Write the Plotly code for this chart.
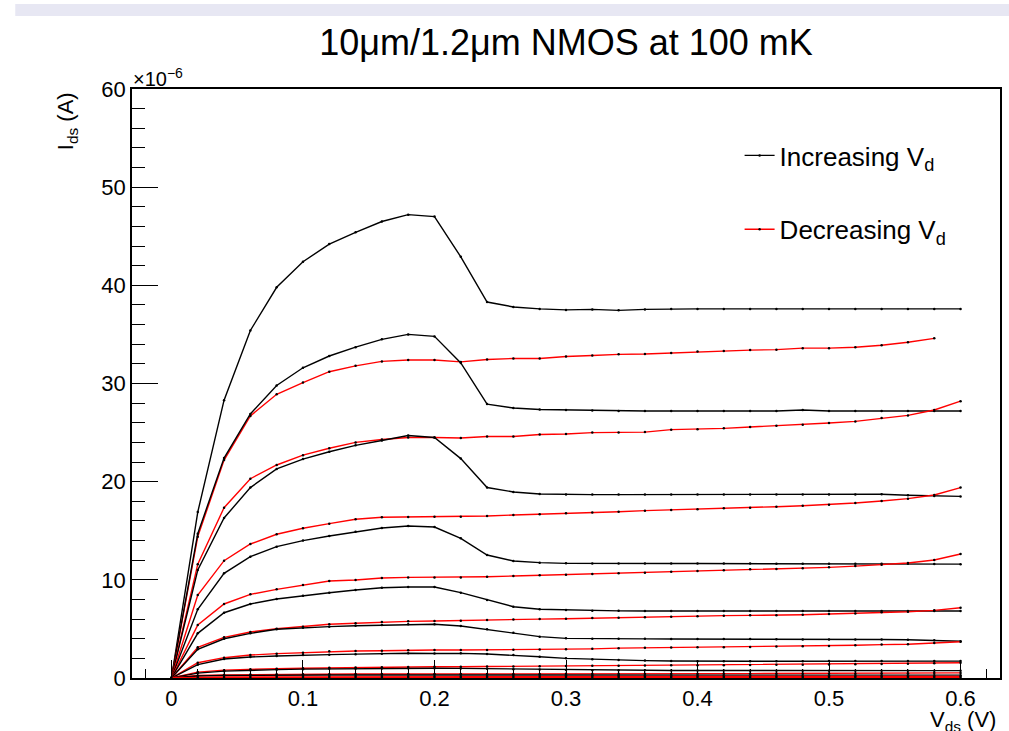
import plotly.graph_objects as go

vds = [0.00, 0.02, 0.04, 0.06, 0.08, 0.10, 0.12, 0.14, 0.16, 0.18, 0.20,
       0.22, 0.24, 0.26, 0.28, 0.30, 0.32, 0.34, 0.36, 0.38, 0.40,
       0.42, 0.44, 0.46, 0.48, 0.50, 0.52, 0.54, 0.56, 0.58, 0.60]

# Increasing Vd (black), values in units of 1e-6 A
inc1 = [0, 16.9, 28.3, 35.4, 39.8, 42.4, 44.2, 45.4, 46.5, 47.2, 47.0,
        42.9, 38.3, 37.8, 37.6, 37.5, 37.55, 37.45, 37.55, 37.6, 37.6,
        37.6, 37.6, 37.6, 37.6, 37.6, 37.6, 37.6, 37.6, 37.6, 37.6]
inc2 = [0, 14.7, 22.4, 26.9, 29.8, 31.6, 32.8, 33.7, 34.5, 35.0, 34.8,
        32.1, 27.9, 27.5, 27.35, 27.3, 27.25, 27.2, 27.2, 27.2, 27.2,
        27.2, 27.2, 27.2, 27.3, 27.2, 27.2, 27.2, 27.2, 27.2, 27.2]
inc3 = [0, 11.0, 16.3, 19.4, 21.3, 22.3, 23.05, 23.7, 24.2, 24.7, 24.5,
        22.35, 19.4, 18.95, 18.75, 18.7, 18.68, 18.68, 18.68, 18.68, 18.68,
        18.68, 18.68, 18.7, 18.68, 18.68, 18.68, 18.72, 18.62, 18.55, 18.5]
inc4 = [0, 7.0, 10.66, 12.36, 13.38, 14.0, 14.46, 14.9, 15.28, 15.48, 15.38,
        14.23, 12.53, 11.92, 11.75, 11.68, 11.66, 11.66, 11.66, 11.66, 11.66,
        11.66, 11.66, 11.65, 11.65, 11.65, 11.65, 11.65, 11.64, 11.62, 11.6]
inc5 = [0, 4.55, 6.65, 7.54, 8.05, 8.38, 8.69, 8.96, 9.2, 9.27, 9.27,
        8.69, 7.95, 7.26, 7.0, 6.93, 6.86, 6.84, 6.83, 6.83, 6.83,
        6.83, 6.83, 6.83, 6.83, 6.83, 6.83, 6.83, 6.83, 6.83, 6.83]
inc6 = [0, 2.93, 4.0, 4.55, 4.96, 5.13, 5.23, 5.33, 5.4, 5.47, 5.47,
        5.3, 4.96, 4.62, 4.21, 4.04, 4.0, 3.99, 3.99, 3.98, 3.98,
        3.98, 3.98, 3.95, 3.93, 3.92, 3.92, 3.92, 3.9, 3.85, 3.75]
inc7 = [0, 1.36, 1.94, 2.14, 2.24, 2.34, 2.38, 2.43, 2.48, 2.52, 2.5,
        2.51, 2.44, 2.34, 2.17, 2.0, 1.9, 1.83, 1.77, 1.73, 1.7,
        1.7, 1.7, 1.71, 1.71, 1.72, 1.72, 1.72, 1.72, 1.72, 1.72]
inc8 = [0, 0.5, 0.7, 0.8, 0.85, 0.9, 0.93, 0.95, 0.97, 0.99, 1.0,
        0.98, 0.95, 0.9, 0.86, 0.82, 0.8, 0.79, 0.78, 0.77, 0.77,
        0.76, 0.75, 0.75, 0.75, 0.75, 0.75, 0.75, 0.75, 0.75, 0.75]
inc9 = [0, 0.2, 0.25, 0.28, 0.3, 0.3, 0.31, 0.31, 0.32, 0.32, 0.32,
        0.32, 0.31, 0.3, 0.3, 0.29, 0.29, 0.29, 0.29, 0.29, 0.29,
        0.29, 0.29, 0.29, 0.29, 0.29, 0.29, 0.29, 0.29, 0.29, 0.29]

# Decreasing Vd (red)
dec1 = [0, 14.4, 22.2, 26.7, 28.9, 30.1, 31.2, 31.8, 32.25, 32.4, 32.4,
        32.2, 32.45, 32.55, 32.55, 32.75, 32.85, 32.97, 33.0, 33.1, 33.25,
        33.3, 33.4, 33.45, 33.6, 33.6, 33.7, 33.9, 34.2, 34.6]
dec2 = [0, 11.6, 17.35, 20.3, 21.7, 22.7, 23.4, 24.0, 24.3, 24.5, 24.5,
        24.45, 24.6, 24.6, 24.8, 24.85, 25.0, 25.0, 25.05, 25.3, 25.35,
        25.43, 25.57, 25.7, 25.8, 25.97, 26.14, 26.48, 26.75, 27.3, 28.2]
dec3 = [0, 8.45, 11.95, 13.65, 14.64, 15.25, 15.72, 16.17, 16.37, 16.4, 16.43,
        16.43, 16.5, 16.6, 16.67, 16.77, 16.87, 16.94, 17.05, 17.12, 17.2,
        17.28, 17.35, 17.45, 17.55, 17.66, 17.83, 18.03, 18.27, 18.64, 19.4]
dec4 = [0, 5.4, 7.54, 8.52, 9.03, 9.47, 9.88, 9.98, 10.19, 10.25, 10.25,
        10.25, 10.32, 10.39, 10.46, 10.53, 10.6, 10.66, 10.73, 10.83, 10.9,
        10.97, 11.07, 11.1, 11.17, 11.27, 11.4, 11.54, 11.71, 12.02, 12.63]
dec5 = [0, 3.13, 4.14, 4.69, 5.02, 5.23, 5.47, 5.57, 5.7, 5.77, 5.81,
        5.84, 5.91, 5.97, 6.0, 6.04, 6.1, 6.14, 6.2, 6.24, 6.3,
        6.35, 6.38, 6.4, 6.45, 6.52, 6.58, 6.69, 6.75, 6.89, 7.16]
dec6 = [0, 1.56, 2.07, 2.34, 2.48, 2.58, 2.72, 2.75, 2.78, 2.83, 2.85,
        2.85, 2.86, 2.88, 2.9, 2.94, 2.97, 3.04, 3.07, 3.1, 3.12,
        3.14, 3.17, 3.2, 3.24, 3.27, 3.34, 3.4, 3.44, 3.57, 3.7]
dec7 = [0, 0.6, 0.8, 0.9, 0.95, 1.0, 1.04, 1.07, 1.1, 1.12, 1.15,
        1.15, 1.17, 1.18, 1.2, 1.22, 1.24, 1.26, 1.27, 1.29, 1.3,
        1.31, 1.32, 1.34, 1.36, 1.38, 1.4, 1.43, 1.46, 1.5, 1.55]
dec8 = [0, 0.25, 0.32, 0.35, 0.37, 0.38, 0.39, 0.4, 0.4, 0.41, 0.41,
        0.41, 0.42, 0.42, 0.42, 0.43, 0.43, 0.43, 0.44, 0.44, 0.44,
        0.45, 0.45, 0.45, 0.46, 0.46, 0.47, 0.48, 0.49, 0.5, 0.52]
dec9 = [0, 0.08, 0.1, 0.11, 0.12, 0.12, 0.12, 0.13, 0.13, 0.13, 0.13,
        0.13, 0.13, 0.13, 0.13, 0.13, 0.14, 0.14, 0.14, 0.14, 0.14,
        0.14, 0.14, 0.14, 0.14, 0.15, 0.15, 0.15, 0.15, 0.15, 0.16]
dec10 = [0, 0.02, 0.03, 0.03, 0.03, 0.03, 0.03, 0.03, 0.03, 0.03, 0.03,
         0.03, 0.03, 0.03, 0.03, 0.03, 0.03, 0.03, 0.03, 0.03, 0.03,
         0.03, 0.03, 0.03, 0.03, 0.03, 0.03, 0.03, 0.03, 0.03, 0.03]

increasing = [inc1, inc2, inc3, inc4, inc5, inc6, inc7, inc8, inc9]
decreasing = [dec1, dec2, dec3, dec4, dec5, dec6, dec7, dec8, dec9, dec10]

title_text = "10\u03bcm/1.2\u03bcm NMOS at 100 mK"
legend_inc = "Increasing V<sub>d</sub>"
legend_dec = "Decreasing V<sub>d</sub>"
x_ticks = [0, 0.1, 0.2, 0.3, 0.4, 0.5, 0.6]
x_labels = ["0", "0.1", "0.2", "0.3", "0.4", "0.5", "0.6"]
y_ticks = [0, 10, 20, 30, 40, 50, 60]

FONT = "Liberation Sans, Arial, Helvetica, sans-serif"
W, H = 1009, 731
L, R, T, B = 132, 1002, 89, 678   # plot-area edges in pixels
PW, PH = R - L, B - T


def px(x):
    return (x - L) / PW


def py(y):
    return (B - y) / PH


fig = go.Figure()

n = max(len(increasing), len(decreasing))
for i in range(n):
    if i < len(increasing):
        ys = increasing[i]
        fig.add_trace(go.Scatter(
            x=vds[:len(ys)], y=ys, mode="lines+markers",
            line=dict(color="black", width=1.4),
            marker=dict(color="black", size=2.5),
            name=legend_inc, legendgroup="inc", legendrank=1,
            showlegend=(i == 0)))
    if i < len(decreasing):
        ys = decreasing[i]
        fig.add_trace(go.Scatter(
            x=vds[:len(ys)], y=ys, mode="lines+markers",
            line=dict(color="#ff0000", width=1.4),
            marker=dict(color="black", size=2.5),
            name=legend_dec, legendgroup="dec", legendrank=2,
            showlegend=(i == 0)))

fig.update_layout(
    width=W, height=H,
    margin=dict(l=L, r=W - R, t=T, b=H - B),
    paper_bgcolor="white", plot_bgcolor="white",
    font=dict(family=FONT, color="black", size=22),
    title=dict(text=title_text, x=0.5, xref="paper", y=1 - 42 / H,
               yref="container", xanchor="center", yanchor="middle",
               font=dict(size=36, family=FONT)),
    showlegend=True,
    legend=dict(x=px(741), y=py(132), xanchor="left", yanchor="top",
                bgcolor="rgba(0,0,0,0)", borderwidth=0,
                font=dict(size=26, family=FONT),
                traceorder="grouped", tracegroupgap=37),
    xaxis=dict(range=[-0.03, 0.63], showgrid=False, zeroline=False,
               showline=True, linecolor="black", linewidth=1.5, mirror=True,
               ticks="inside", ticklen=18, tickwidth=1, tickcolor="black",
               tickvals=x_ticks, ticktext=x_labels,
               tickfont=dict(size=22, family=FONT),
               minor=dict(dtick=0.02, tick0=0, ticks="inside", ticklen=9,
                          tickwidth=1, tickcolor="black", showgrid=False)),
    yaxis=dict(range=[0, 60], showgrid=False, zeroline=False,
               showline=True, linecolor="black", linewidth=1.5, mirror=True,
               ticks="inside", ticklen=26, tickwidth=1, tickcolor="black",
               tickvals=y_ticks, tickfont=dict(size=22, family=FONT),
               minor=dict(dtick=2, tick0=0, ticks="inside", ticklen=13,
                          tickwidth=1, tickcolor="black", showgrid=False)),
    shapes=[dict(type="rect", xref="paper", yref="paper",
                 x0=px(15), x1=px(1012), y0=py(16), y1=py(4),
                 fillcolor="#e7e7f3", line=dict(width=0), layer="below")],
    annotations=[
        dict(text="\u00d710<sup>\u22126</sup>", xref="paper", yref="paper",
             x=px(131), y=py(92), xanchor="left", yanchor="bottom",
             showarrow=False, font=dict(size=20, family=FONT)),
        dict(text="I<sub>ds</sub> (A)", xref="paper", yref="paper",
             x=px(67), y=py(90), xanchor="center",
             yanchor="top", textangle=-90, showarrow=False,
             font=dict(size=22, family=FONT)),
        dict(text="V<sub>ds</sub> (V)", xref="paper", yref="paper",
             x=px(1000), y=py(705), xanchor="right",
             yanchor="top", showarrow=False,
             font=dict(size=22, family=FONT)),
    ],
)

fig.write_html("out.html",
               config={"displayModeBar": False},
               post_script="document.body.style.margin='0';"
                           "document.body.style.overflow='hidden';")
